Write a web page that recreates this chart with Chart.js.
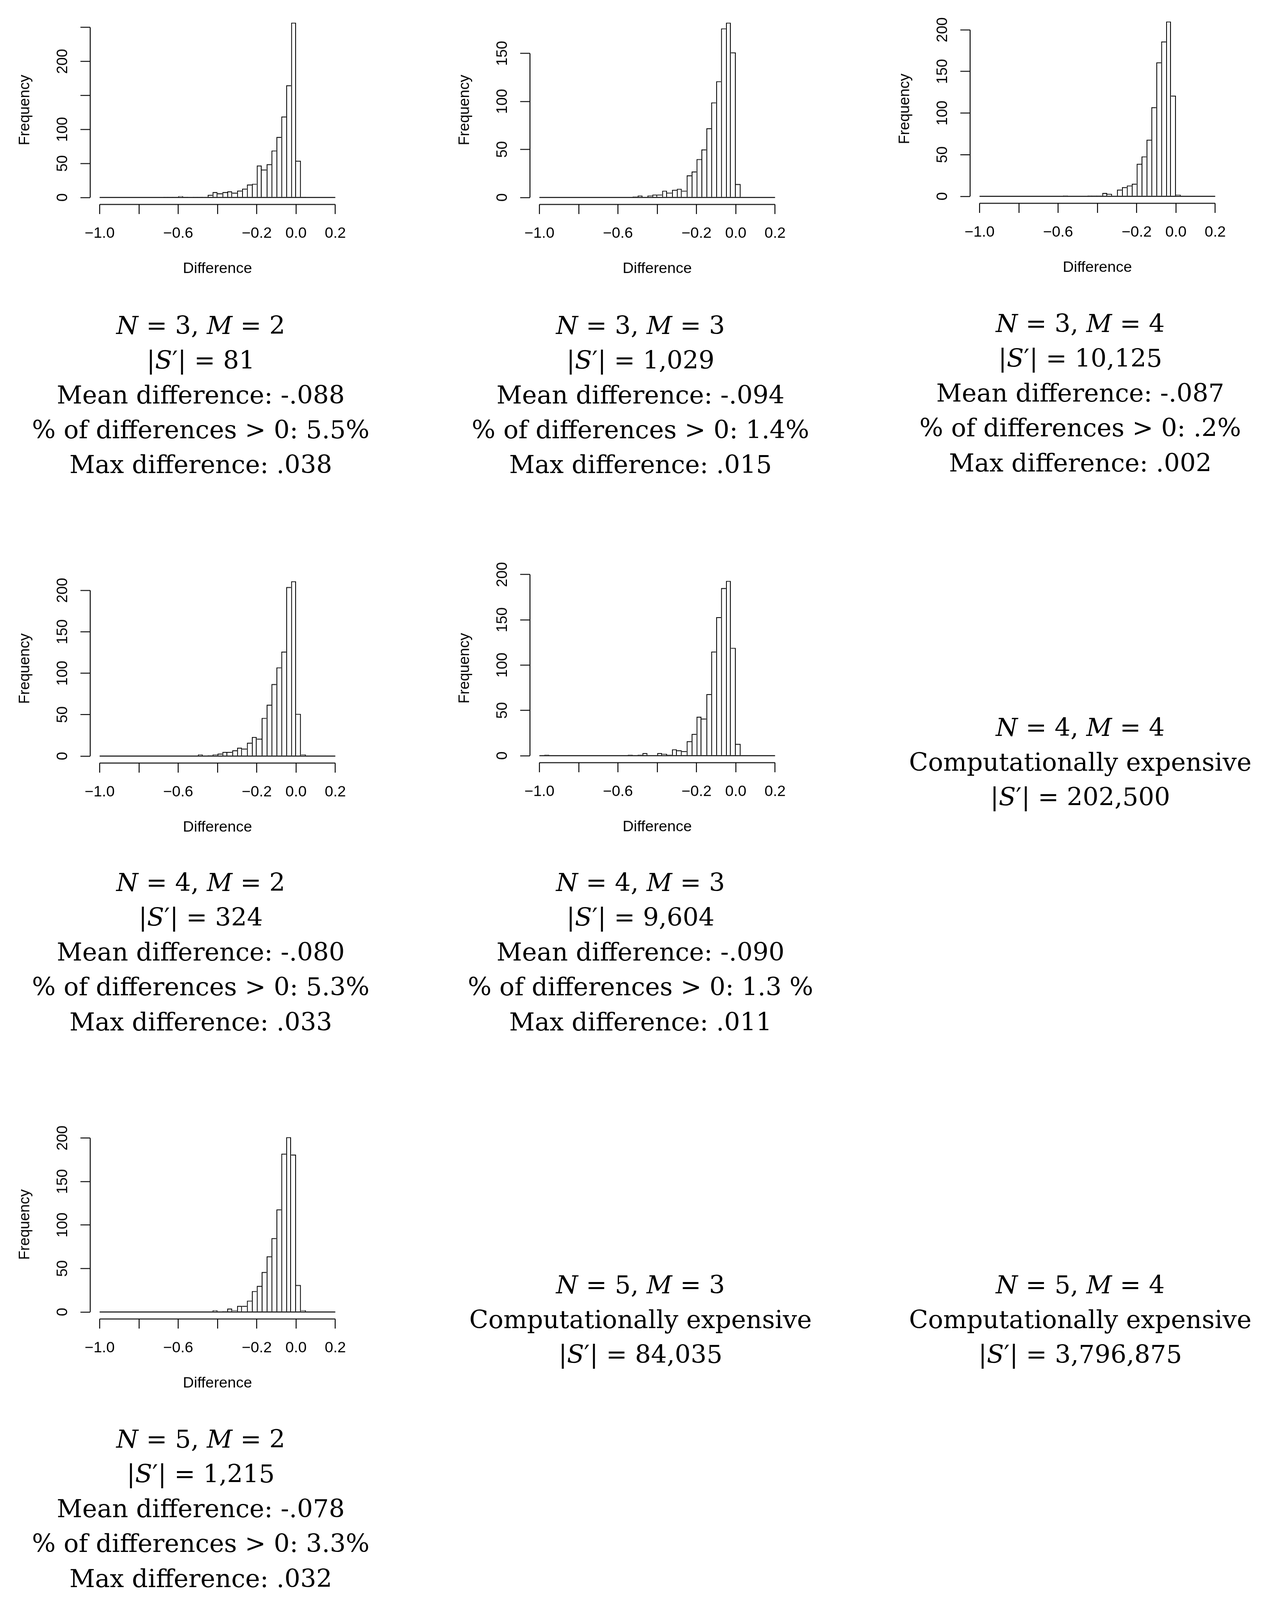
<!DOCTYPE html>
<html>
<head>
<meta charset="utf-8">
<script src="https://cdn.jsdelivr.net/npm/chart.js@4.4.1/dist/chart.umd.min.js"></script>
<style>
  html, body { margin: 0; padding: 0; background: #fff; overflow: hidden; }
  #page { position: relative; width: 3257px; height: 4179px; overflow: hidden; background: #fff; transform-origin: 0 0; }
  #page canvas { position: absolute; }
  .caption {
    position: absolute; width: 1200px; text-align: center; white-space: nowrap;
    font-family: "DejaVu Serif", serif; font-size: 64px; line-height: 91px; color: #000;
  }
</style>
</head>
<body>
<div id="page"></div>
<script>
// histogram bins, width .025, shared by every panel
const binEdges = [
  -1.000, -0.975, -0.950, -0.925, -0.900, -0.875, -0.850, -0.825, -0.800, -0.775,
  -0.750, -0.725, -0.700, -0.675, -0.650, -0.625, -0.600, -0.575, -0.550, -0.525,
  -0.500, -0.475, -0.450, -0.425, -0.400, -0.375, -0.350, -0.325, -0.300, -0.275,
  -0.250, -0.225, -0.200, -0.175, -0.150, -0.125, -0.100, -0.075, -0.050, -0.025,
   0.000,  0.025,  0.050,  0.075,  0.100,  0.125,  0.150,  0.175,  0.200
];

// counts per bin
const countsN3M2 = [
  0, 0, 0, 0, 0, 0, 0, 0, 0, 0, 0, 0,
  0, 1, 1, 1, 2, 1, 0, 1, 1, 0, 4, 8,
  6, 8, 9, 7, 10, 13, 19, 20, 47, 41, 49, 69,
  89, 119, 165, 257, 54, 1, 0, 0, 0, 0, 0, 0
];
const countsN3M3 = [
  0, 0, 0, 0, 0, 0, 0, 0, 0, 0, 0, 0,
  0, 0, 0, 0, 0, 0, 0, 1, 2, 0, 2, 3,
  3, 7, 5, 8, 9, 7, 23, 27, 40, 50, 72, 99,
  121, 176, 182, 151, 14, 0, 0, 0, 0, 0, 0, 0
];
const countsN3M4 = [
  0, 0, 0, 0, 0, 0, 0, 0, 0, 0, 0, 0,
  0, 0, 0, 0, 0, 1, 0, 0, 0, 0, 1, 1,
  1, 4, 3, 0, 8, 11, 13, 15, 39, 48, 68, 107,
  161, 186, 210, 121, 2, 0, 0, 0, 0, 0, 0, 0
];
const countsN4M2 = [
  0, 0, 0, 0, 0, 0, 0, 0, 0, 0, 0, 0,
  0, 0, 0, 0, 0, 0, 0, 0, 2, 0, 1, 2,
  3, 5, 5, 7, 10, 9, 16, 23, 21, 46, 62, 87,
  107, 126, 204, 211, 51, 2, 0, 0, 0, 0, 0, 0
];
const countsN4M3 = [
  0, 1, 0, 0, 0, 0, 0, 0, 0, 0, 0, 0,
  0, 0, 0, 0, 0, 0, 1, 0, 1, 3, 0, 0,
  3, 2, 1, 7, 6, 5, 16, 24, 43, 41, 68, 115,
  153, 185, 193, 119, 13, 0, 0, 0, 0, 0, 0, 0
];
const countsN5M2 = [
  0, 0, 0, 0, 0, 0, 0, 0, 0, 0, 0, 0,
  0, 0, 0, 0, 0, 0, 0, 0, 0, 0, 0, 2,
  0, 1, 4, 2, 7, 7, 13, 24, 30, 46, 64, 85,
  118, 182, 201, 181, 31, 2, 0, 0, 0, 0, 0, 0
];

// axis ticks (R drops labels that would collide)
const xTicks = [-1.0, -0.8, -0.6, -0.4, -0.2, 0.0, 0.2];
const xTickLabels = ["\u22121.0", "", "\u22120.6", "", "\u22120.2", "0.0", "0.2"];
const yTicks250 = [0, 50, 100, 150, 200, 250];
const yLabels250 = ["0", "50", "100", "", "200", ""];
const yTicks150 = [0, 50, 100, 150];
const yLabels150 = ["0", "50", "100", "150"];
const yTicks200 = [0, 50, 100, 150, 200];
const yLabels200 = ["0", "50", "100", "150", "200"];

// caption lines
const captions = [
  ["<i>N</i> = 3, <i>M</i> = 2", "|<i>S</i>\u2032| = 81", "Mean difference: -.088", "% of differences &gt; 0: 5.5%", "Max difference: .038"],
  ["<i>N</i> = 3, <i>M</i> = 3", "|<i>S</i>\u2032| = 1,029", "Mean difference: -.094", "% of differences &gt; 0: 1.4%", "Max difference: .015"],
  ["<i>N</i> = 3, <i>M</i> = 4", "|<i>S</i>\u2032| = 10,125", "Mean difference: -.087", "% of differences &gt; 0: .2%", "Max difference: .002"],
  ["<i>N</i> = 4, <i>M</i> = 2", "|<i>S</i>\u2032| = 324", "Mean difference: -.080", "% of differences &gt; 0: 5.3%", "Max difference: .033"],
  ["<i>N</i> = 4, <i>M</i> = 3", "|<i>S</i>\u2032| = 9,604", "Mean difference: -.090", "% of differences &gt; 0: 1.3 %", "Max difference: .011"],
  ["<i>N</i> = 4, <i>M</i> = 4", "Computationally expensive", "|<i>S</i>\u2032| = 202,500"],
  ["<i>N</i> = 5, <i>M</i> = 2", "|<i>S</i>\u2032| = 1,215", "Mean difference: -.078", "% of differences &gt; 0: 3.3%", "Max difference: .032"],
  ["<i>N</i> = 5, <i>M</i> = 3", "Computationally expensive", "|<i>S</i>\u2032| = 84,035"],
  ["<i>N</i> = 5, <i>M</i> = 4", "Computationally expensive", "|<i>S</i>\u2032| = 3,796,875"]
];

// layout
const PAGE_W = 3257, PAGE_H = 4179;
const AX_W = 210, AX_H = 210, PAD_T = 10, PAD_R = 20;
const PLOT_W = 663, PLOT_H = 519;
const LW = 2.4;

const panels = [
  { counts: countsN3M2, yTicks: yTicks250, yLabels: yLabels250, plotX: 230.5, plotY: 15 },
  { counts: countsN3M3, yTicks: yTicks150, yLabels: yLabels150, plotX: 1357, plotY: 15 },
  { counts: countsN3M4, yTicks: yTicks200, yLabels: yLabels200, plotX: 2484, plotY: 12.3 },
  { counts: countsN4M2, yTicks: yTicks200, yLabels: yLabels200, plotX: 230.5, plotY: 1473.8 },
  { counts: countsN4M3, yTicks: yTicks200, yLabels: yLabels200, plotX: 1357, plotY: 1473.2 },
  { counts: countsN5M2, yTicks: yTicks200, yLabels: yLabels200, plotX: 230.5, plotY: 2926 }
];
const captionBoxes = [
  { cx: 514, top: 805 }, { cx: 1640, top: 805 }, { cx: 2766, top: 800 },
  { cx: 514, top: 2260 }, { cx: 1640, top: 2260 }, { cx: 2766, top: 1855 },
  { cx: 514, top: 3714 }, { cx: 1640, top: 3311 }, { cx: 2766, top: 3311 }
];

Chart.defaults.font.family = '"Liberation Sans", Arial, sans-serif';
Chart.defaults.font.size = 39;
Chart.defaults.color = "#000";

const page = document.getElementById("page");

// keep the whole figure inside the visible viewport
const fitX = window.innerWidth > 1000 ? Math.min(1, window.innerWidth / PAGE_W) : 1;
const fitY = window.innerHeight > 1000 ? Math.min(1, window.innerHeight / PAGE_H) : 1;
if (fitX < 1 || fitY < 1) page.style.transform = `scale(${fitX}, ${fitY})`;

// R-style axes: lines only from first to last tick, plus the histogram baseline
const rAxes = {
  id: "rAxes",
  afterDatasetsDraw(chart) {
    const { ctx, chartArea, scales: { x, y } } = chart;
    const xt = x.ticks, yt = y.ticks;
    ctx.save();
    ctx.strokeStyle = "#000";
    ctx.lineWidth = LW;
    ctx.beginPath();
    ctx.moveTo(x.getPixelForValue(xt[0].value), chartArea.bottom);
    ctx.lineTo(x.getPixelForValue(xt[xt.length - 1].value), chartArea.bottom);
    ctx.moveTo(chartArea.left, y.getPixelForValue(yt[0].value));
    ctx.lineTo(chartArea.left, y.getPixelForValue(yt[yt.length - 1].value));
    ctx.moveTo(x.getPixelForValue(binEdges[0]), y.getPixelForValue(0));
    ctx.lineTo(x.getPixelForValue(binEdges[binEdges.length - 1]), y.getPixelForValue(0));
    ctx.stroke();
    ctx.restore();
  }
};

// shared edges between neighbours drawn once, by the taller bar
function barEdges(ctx) {
  if (ctx.type !== "data") return LW;
  const d = ctx.dataset.data, i = ctx.dataIndex, v = d[i].y;
  const prev = i > 0 ? d[i - 1].y : 0;
  const next = i < d.length - 1 ? d[i + 1].y : 0;
  return { top: LW, bottom: 0, left: prev >= v ? 0 : LW, right: next > v ? 0 : LW };
}

const tickGrid = {
  offset: false, drawOnChartArea: false, drawTicks: true, tickLength: 25,
  tickWidth: LW, tickColor: "#000", color: "#000", lineWidth: LW
};

function makeHist(p) {
  const canvas = document.createElement("canvas");
  canvas.width = AX_W + PLOT_W + PAD_R;
  canvas.height = PAD_T + PLOT_H + AX_H;
  canvas.style.left = (p.plotX - AX_W) + "px";
  canvas.style.top = (p.plotY - PAD_T) + "px";
  page.appendChild(canvas);

  const top = Math.max(...p.counts);
  const data = p.counts.map((c, i) => ({ x: (binEdges[i] + binEdges[i + 1]) / 2, y: c }));

  new Chart(canvas, {
    type: "bar",
    data: {
      datasets: [{
        data,
        backgroundColor: "#fff",
        borderColor: "#000",
        borderWidth: barEdges,
        borderSkipped: false,
        inflateAmount: 0,
        barPercentage: 1,
        categoryPercentage: 1
      }]
    },
    plugins: [rAxes],
    options: {
      responsive: false,
      animation: false,
      devicePixelRatio: 1,
      layout: { padding: { top: PAD_T, right: PAD_R, left: 0, bottom: 0 } },
      plugins: { legend: { display: false }, tooltip: { enabled: false } },
      scales: {
        x: {
          type: "linear",
          min: -1.048,
          max: 0.248,
          bounds: "data",
          offset: false,
          afterBuildTicks: (s) => { s.ticks = xTicks.map((v) => ({ value: v })); },
          afterFit: (s) => { s.height = AX_H; },
          border: { display: false },
          grid: tickGrid,
          ticks: {
            autoSkip: false, minRotation: 0, maxRotation: 0, padding: 27.6,
            callback: (v, i) => xTickLabels[i]
          },
          title: { display: true, text: "Difference", padding: { top: 0, bottom: 18.6 } }
        },
        y: {
          type: "linear",
          min: -0.04 * top,
          max: 1.04 * top,
          bounds: "data",
          afterBuildTicks: (s) => { s.ticks = p.yTicks.map((v) => ({ value: v })); },
          afterFit: (s) => { s.width = AX_W; },
          border: { display: false },
          grid: tickGrid,
          ticks: {
            autoSkip: false, minRotation: 90, maxRotation: 90, crossAlign: "center", padding: 12.5,
            callback: (v, i) => p.yLabels[i]
          },
          title: { display: true, text: "Frequency", padding: { top: 19.6, bottom: 0 } }
        }
      }
    }
  });
}

panels.forEach(makeHist);

captions.forEach((lines, k) => {
  const div = document.createElement("div");
  div.className = "caption";
  div.style.left = (captionBoxes[k].cx - 600) + "px";
  div.style.top = captionBoxes[k].top + "px";
  div.innerHTML = lines.join("<br>");
  page.appendChild(div);
});
</script>
</body>
</html>
